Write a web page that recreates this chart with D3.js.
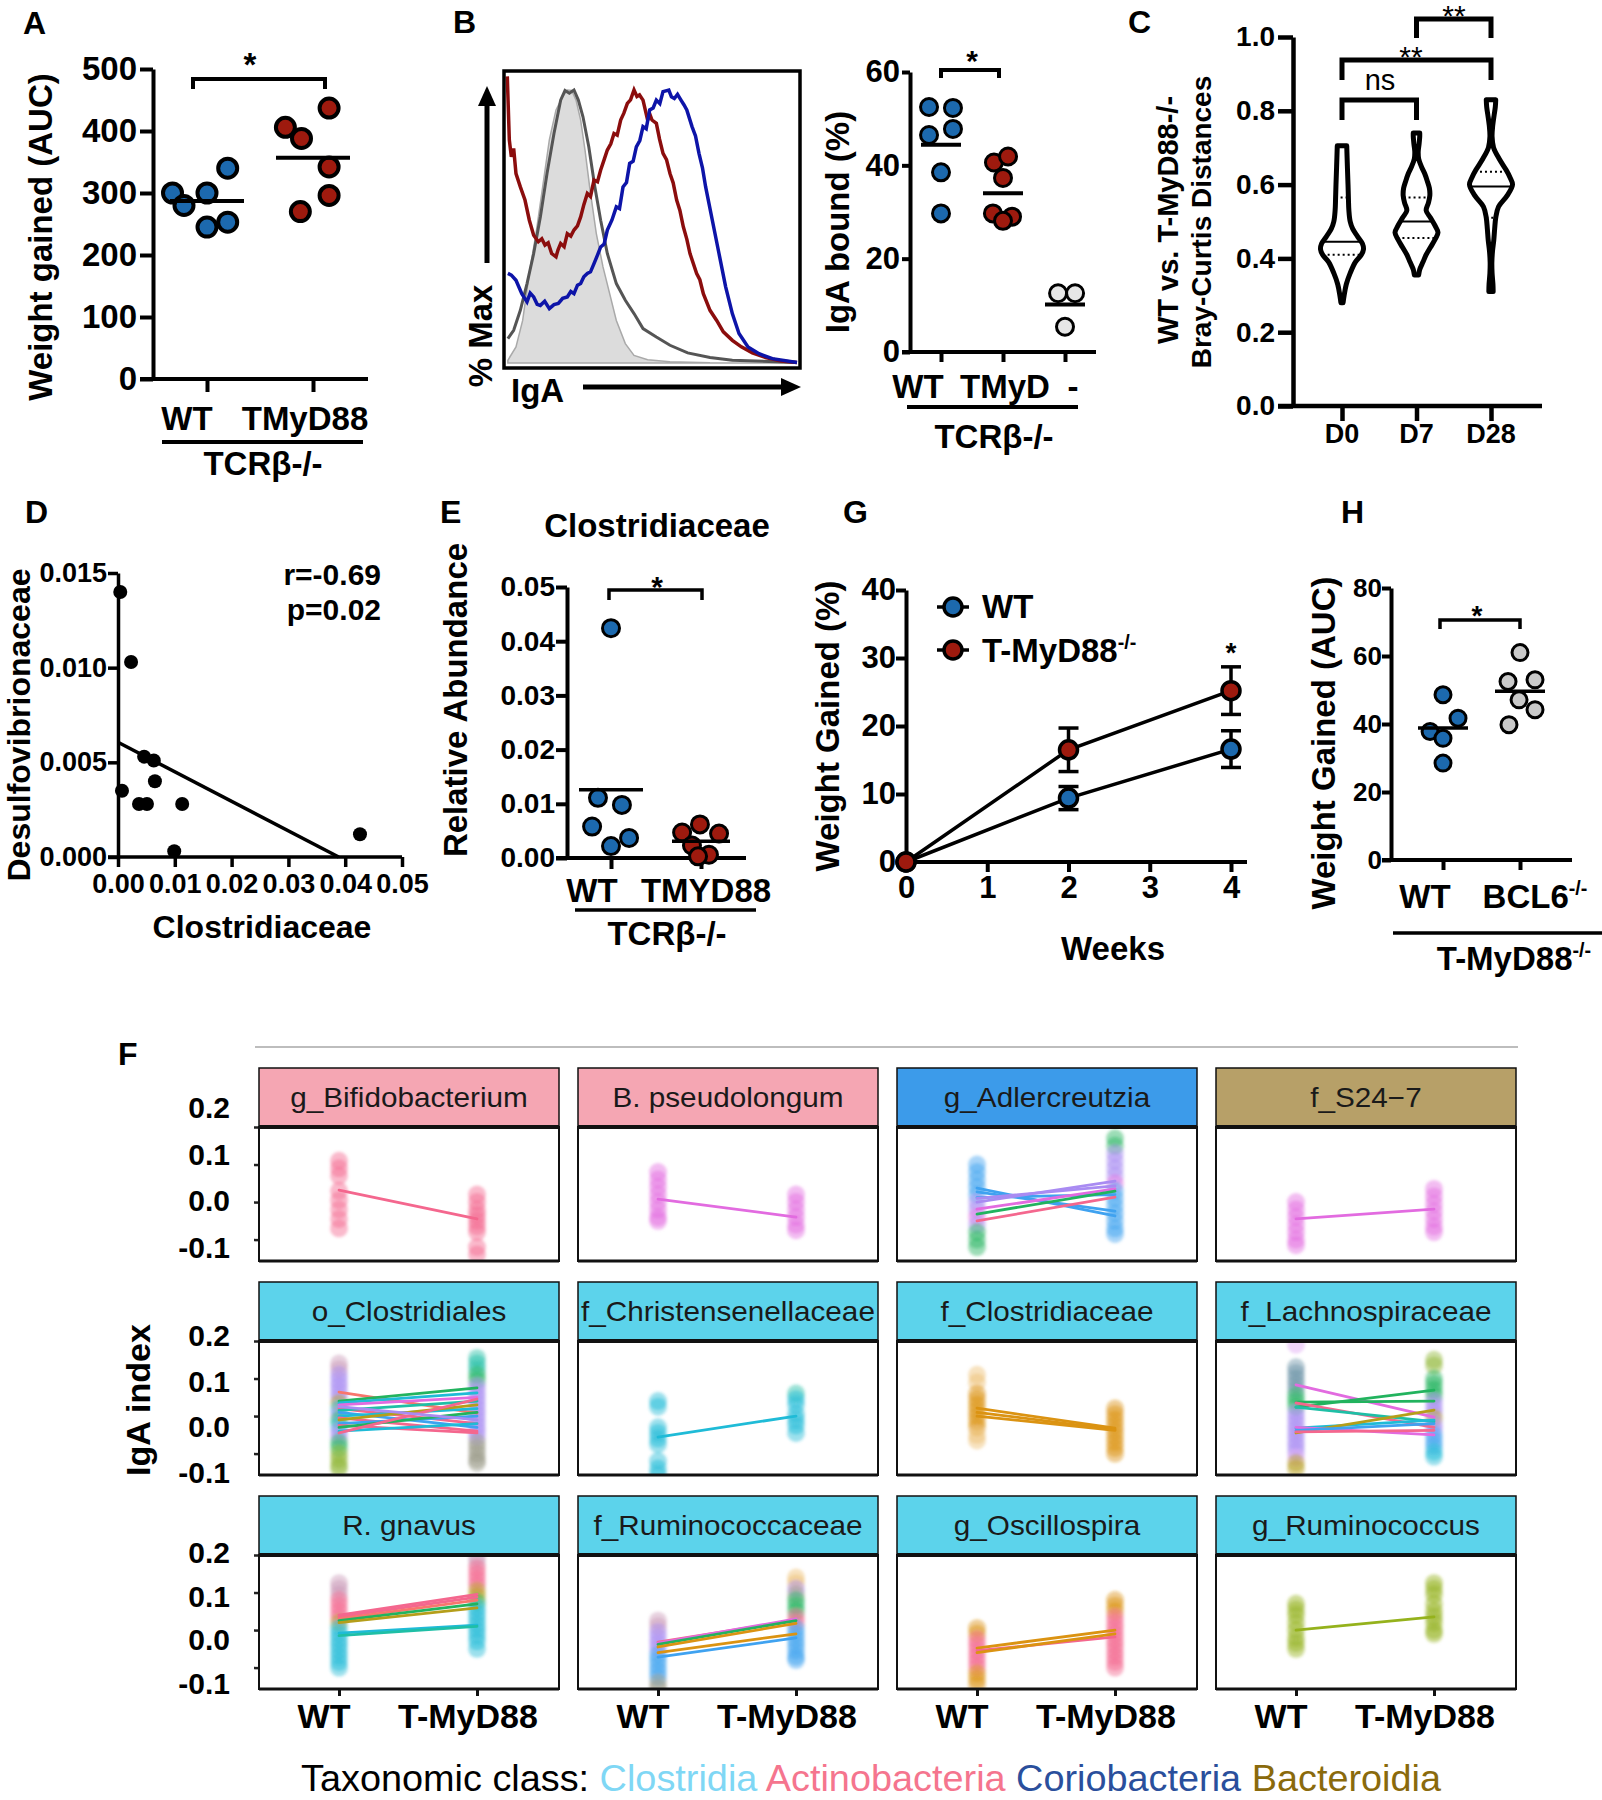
<!DOCTYPE html>
<html><head><meta charset="utf-8">
<script src="https://cdn.jsdelivr.net/npm/d3@7"></script>
<style>
body{margin:0;background:#fff;}
svg text{font-family:"Liberation Sans",Arial,Helvetica,sans-serif;}
</style></head><body>
<svg id="fig" width="1602" height="1800" xmlns="http://www.w3.org/2000/svg"></svg>
<script>
// ================= DATA =================
// A: weight gained (AUC)
const aGroups = ["WT", "TMyD88"];
const aWT = [300, 280, 300, 340, 245, 253];
const aTM = [406, 388, 437, 342, 296, 270];
const aMeans = [287, 357];
const aTicks = [0, 100, 200, 300, 400, 500];

// B: IgA histograms  [IgA intensity (0-100), % Max]
const histShaded = [[0.3,1],[3.1,5.9],[5.4,15.6],[7.7,32.8],[10,47.4],[12.3,64.5],[14.6,81.7],[16.9,92.7],[19.2,97.6],[20.8,100],[22.3,99.8],[23.8,96.3],[25.4,89],[26.9,78],[28.5,64.5],[30.8,47.4],[33.1,35.2],[35.4,25.4],[37.7,15.6],[40.8,7.1],[43.8,2.8],[48.5,1.2],[56.2,0.5],[70,0.1],[100,0]];
const histGray = [[0.3,8.9],[2.3,12],[4.6,19.3],[6.9,29.1],[9.2,40.1],[11.5,53.5],[13.8,69.4],[16.2,84.1],[18.5,96.3],[20,99.8],[21.5,98.8],[23.1,100],[24.6,96.3],[26.2,90.2],[28.2,79.2],[30.3,64.5],[32.3,52.3],[34.6,40.1],[37.7,29.1],[40.8,23],[43.8,18.1],[46.9,12.6],[51.5,9.5],[56.2,6.5],[62.3,3.7],[70,2],[77.7,1],[100,0.2]];
const histRed = [[0.1,105],[0.8,81.7],[1.5,75.5],[2.3,78.6],[3.1,69.4],[4.6,64.5],[6.2,59.7],[7.7,52.3],[9.2,46.8],[10.8,44.4],[12,45.5],[13.1,43.2],[14.2,44],[15.4,40.1],[16.9,38.9],[17.6,41.5],[18.5,43.8],[19.7,42.6],[20.8,47.4],[22,46.5],[23.1,48.7],[24.3,50.2],[25.4,53.5],[26.5,58],[27.7,62.1],[28.8,61],[30,67],[31.2,66.4],[32.3,70.7],[33.5,74.5],[34.6,78],[35.8,80.3],[36.9,84.1],[38,83.5],[39.2,89],[40.3,91.5],[41.5,95.1],[42.6,96.4],[43.8,100],[44.8,97.6],[45.7,98.2],[46.9,96.3],[48.5,89],[49.3,91],[50,89],[51.5,87.8],[52.6,82],[53.8,76.8],[55,74.5],[56.2,69.4],[57.3,66],[58.5,59.7],[59.6,56],[60.8,49.9],[62,45.4],[63.1,40.1],[65.4,32.8],[66.5,30.5],[67.7,25.4],[70,19.3],[72.3,15.6],[74.6,11.4],[77.7,8.3],[80.8,5.9],[84.6,3.7],[89.2,2],[94.6,0.7],[100,0.2]];
const histBlue = [[0.3,32.8],[1.5,32.2],[3.1,30.3],[5.1,25.4],[6.9,22.4],[8,25.6],[9.2,24.2],[10.4,21.5],[11.5,21.1],[13,22.6],[14.6,19.9],[16.2,21.4],[17.7,21.8],[19.2,23.7],[20.8,24.2],[22,26.2],[23.1,25.4],[24.3,28.5],[25.4,29.1],[26.5,31.6],[27.7,32.8],[28.8,33.4],[30,36.4],[31.2,39.5],[32.3,42.5],[33.5,43.6],[34.6,48.7],[36.2,52.4],[37.7,57.2],[38.8,56.6],[40,64.5],[41.2,66.1],[42.3,73.1],[43.5,73.9],[44.6,79.2],[45.8,81.5],[46.9,86.6],[48,85.8],[49.2,92.7],[50.4,93.4],[51.5,96.3],[52.7,95],[53.8,99.4],[55.8,100],[56.7,97.5],[57.7,96.9],[58.8,98.4],[60,96.3],[61,94.6],[62,92.7],[63.8,86.6],[65,83.2],[66.2,76.8],[67.4,71.5],[68.5,64.5],[70.8,52.3],[73.1,40.1],[75.4,27.9],[77.7,18.1],[80,10.8],[83.1,5.9],[86.9,3.4],[91.5,1.6],[100,0.2]];
// B: IgA bound (%)
const bGroups = ["WT", "TMyD", "-"];
const bWT = [52.5, 52.3, 46.5, 47.8, 38.5, 29.7];
const bTM = [40.6, 41.9, 37.3, 29.7, 29.0, 28.1];
const bNeg = [12.6, 12.6, 5.4];
const bMeans = [44.4, 34.0, 10.2];
const bTicks = [0, 20, 40, 60];

// C: Bray-Curtis violins  [distance, relative density]
const cGroups = ["D0", "D7", "D28"];
const vD0 = [[0.28,0.05],[0.30,0.1],[0.33,0.2],[0.36,0.38],[0.39,0.62],[0.41,0.9],[0.425,1.0],[0.44,0.95],[0.46,0.72],[0.48,0.5],[0.50,0.38],[0.53,0.32],[0.56,0.3],[0.60,0.28],[0.65,0.25],[0.705,0.22]];
const vD7 = [[0.355,0.1],[0.37,0.15],[0.39,0.3],[0.41,0.45],[0.43,0.65],[0.45,0.85],[0.47,1.0],[0.49,0.85],[0.51,0.65],[0.53,0.45],[0.55,0.55],[0.57,0.62],[0.59,0.6],[0.61,0.5],[0.63,0.38],[0.65,0.22],[0.67,0.1],[0.69,0.08],[0.71,0.12],[0.73,0.15],[0.74,0.15]];
const vD28 = [[0.31,0.1],[0.33,0.09],[0.36,0.05],[0.39,0.04],[0.42,0.07],[0.45,0.13],[0.48,0.17],[0.51,0.22],[0.54,0.35],[0.57,0.75],[0.60,1.0],[0.62,0.88],[0.64,0.7],[0.67,0.38],[0.70,0.12],[0.73,0.05],[0.76,0.08],[0.79,0.15],[0.81,0.2],[0.83,0.22]];
const cMedian = [0.445, 0.50, 0.595];
const cQ1 = [0.41, 0.455, 0.51];
const cQ3 = [0.565, 0.565, 0.635];
const cTicks = [0, 0.2, 0.4, 0.6, 0.8, 1.0];

// D: correlation
const dX = [0.0004, 0.0023, 0.0046, 0.0063, 0.0007, 0.0065, 0.0037, 0.0051, 0.0113, 0.0099, 0.0426];
const dY = [0.0140, 0.0103, 0.0053, 0.0051, 0.0035, 0.0040, 0.0028, 0.0028, 0.0028, 0.0003, 0.0012];
const dXTicks = [0, 0.01, 0.02, 0.03, 0.04, 0.05];
const dYTicks = [0, 0.005, 0.010, 0.015];

// E: Clostridiaceae relative abundance
const eGroups = ["WT", "TMYD88"];
const eWT = [0.0424, 0.0111, 0.0098, 0.0058, 0.0037, 0.0022];
const eTM = [0.0062, 0.0047, 0.0045, 0.0023, 0.0006, 0.0003];
const eMeans = [0.0126, 0.0031];
const eTicks = [0, 0.01, 0.02, 0.03, 0.04, 0.05];

// G: weight gained over weeks
const gWeeks = [0, 2, 4];
const gWTmean = [0, 9.4, 16.6];
const gWTsem = [0, 1.7, 2.7];
const gTMmean = [0, 16.5, 25.2];
const gTMsem = [0, 3.2, 3.5];
const gXTicks = [0, 1, 2, 3, 4];
const gYTicks = [0, 10, 20, 30, 40];

// H: weight gained AUC
const hGroups = ["WT", "BCL6"];
const hWT = [48.6, 41.7, 37.8, 35.8, 28.5];
const hBCL = [61.0, 52.5, 53.0, 47.1, 44.2, 39.8];
const hMeans = [38.8, 49.6];
const hTicks = [0, 20, 40, 60, 80];

// F: IgA index facets
const fNames = ["g_Bifidobacterium","B. pseudolongum","g_Adlercreutzia","f_S24\u22127","o_Clostridiales","f_Christensenellaceae","f_Clostridiaceae","f_Lachnospiraceae","R. gnavus","f_Ruminococcaceae","g_Oscillospira","g_Ruminococcus"];
const fClass = ["Actinobacteria","Actinobacteria","Coriobacteria","Bacteroidia","Clostridia","Clostridia","Clostridia","Clostridia","Clostridia","Clostridia","Clostridia","Clostridia"];
const fGroups = ["WT", "T-MyD88"];
const fYTicks = [-0.1, 0, 0.1, 0.2];
// samples: [IgA index, OTU key]
const fWT = [
  [[0.11,"pk"],[0.09,"pk"],[0.07,"pk"],[0.03,"pk"],[0.005,"pk"],[-0.02,"pk"],[-0.045,"pk"],[-0.07,"pk"]],
  [[0.08,"mg"],[0.06,"mg"],[0.04,"mg"],[0.02,"mg"],[0.0,"mg"],[-0.02,"mg"],[-0.04,"mg"],[-0.05,"mg"]],
  [[0.1,"bl"],[0.08,"bl"],[0.06,"bl"],[0.04,"bl"],[0.02,"bl"],[0.0,"pu"],[-0.02,"pu"],[-0.04,"mg"],[-0.06,"pu"],[-0.08,"gr"],[-0.1,"gr"],[-0.12,"gr"]],
  [[0.0,"mg"],[-0.02,"mg"],[-0.04,"mg"],[-0.06,"mg"],[-0.08,"mg"],[-0.1,"mg"],[-0.115,"mg"]],
  [[0.14,"mv"],[0.125,"mv"],[0.11,"pu"],[0.095,"pu"],[0.08,"pu"],[0.065,"pu"],[0.05,"pu"],[0.035,"ol"],[0.02,"cy"],[0.005,"pu"],[-0.01,"gr"],[-0.025,"cy"],[-0.04,"pu"],[-0.055,"pu"],[-0.07,"gr"],[-0.085,"gr"],[-0.1,"lg"],[-0.115,"lg"],[-0.13,"lg"],[-0.14,"lg"]],
  [[0.04,"cy"],[0.025,"cy"],[-0.03,"cy"],[-0.045,"cy"],[-0.06,"cy"],[-0.075,"cy"],[-0.12,"cy"],[-0.14,"cy"],[-0.155,"cy"]],
  [[0.11,"lt"],[0.09,"lt"],[0.06,"or"],[0.045,"or"],[0.03,"or"],[0.015,"or"],[0.0,"or"],[-0.015,"or"],[-0.03,"or"],[-0.05,"lt"],[-0.065,"lt"]],
  [[0.19,"lp"],[0.13,"sg"],[0.115,"sg"],[0.1,"sg"],[0.085,"sg"],[0.07,"sg"],[0.055,"gr"],[0.04,"gr"],[0.025,"gr"],[0.01,"pu"],[-0.005,"pu"],[-0.02,"pu"],[-0.035,"pu"],[-0.05,"pu"],[-0.065,"pu"],[-0.08,"pu"],[-0.095,"pu"],[-0.11,"lp"],[-0.125,"ol"],[-0.14,"ol"]],
  [[0.125,"mv"],[0.11,"mv"],[0.095,"mv"],[0.08,"pk"],[0.065,"pk"],[0.05,"pk"],[0.035,"pk"],[0.02,"ol"],[0.005,"cy"],[-0.01,"cy"],[-0.025,"cy"],[-0.04,"cy"],[-0.055,"cy"],[-0.07,"cy"],[-0.085,"cy"],[-0.1,"cy"]],
  [[0.025,"mv"],[0.01,"mv"],[-0.005,"pu"],[-0.02,"pu"],[-0.035,"pu"],[-0.05,"pu"],[-0.065,"bl"],[-0.08,"bl"],[-0.095,"bl"],[-0.11,"bl"],[-0.125,"bl"],[-0.14,"gy"],[-0.155,"gy"]],
  [[0.005,"or"],[-0.01,"or"],[-0.025,"pk"],[-0.04,"pk"],[-0.055,"pk"],[-0.07,"pk"],[-0.085,"pk"],[-0.1,"pk"],[-0.115,"or"],[-0.13,"or"],[-0.145,"or"]],
  [[0.07,"yg"],[0.055,"yg"],[0.04,"yg"],[0.02,"yg"],[0.0,"yg"],[-0.02,"yg"],[-0.035,"yg"],[-0.05,"yg"]]
];
const fTM = [
  [[0.02,"pk"],[0.0,"pk"],[-0.02,"pk"],[-0.035,"pk"],[-0.05,"pk"],[-0.065,"pk"],[-0.08,"pk"],[-0.12,"pk"],[-0.14,"pk"]],
  [[0.02,"mg"],[0.0,"mg"],[-0.02,"mg"],[-0.04,"mg"],[-0.06,"mg"],[-0.075,"mg"]],
  [[0.17,"gr"],[0.15,"gr"],[0.13,"pu"],[0.11,"pu"],[0.09,"pu"],[0.07,"pu"],[0.05,"mg"],[0.03,"bl"],[0.01,"bl"],[-0.01,"bl"],[-0.03,"bl"],[-0.05,"bl"],[-0.07,"bl"],[-0.085,"bl"]],
  [[0.035,"mg"],[0.015,"mg"],[-0.005,"mg"],[-0.025,"mg"],[-0.045,"mg"],[-0.065,"mg"],[-0.08,"mg"]],
  [[0.155,"tl"],[0.14,"tl"],[0.125,"tl"],[0.11,"gr"],[0.095,"gr"],[0.08,"pu"],[0.065,"pu"],[0.05,"pu"],[0.035,"pu"],[0.02,"pu"],[0.005,"pu"],[-0.01,"pu"],[-0.025,"pu"],[-0.04,"pu"],[-0.055,"pu"],[-0.07,"gy"],[-0.085,"gy"],[-0.1,"gy"],[-0.115,"gy"],[-0.125,"gy"]],
  [[0.06,"tl"],[0.045,"cy"],[0.03,"cy"],[0.005,"cy"],[-0.01,"cy"],[-0.025,"cy"],[-0.045,"cy"]],
  [[0.02,"or"],[0.005,"or"],[-0.01,"or"],[-0.025,"or"],[-0.04,"or"],[-0.055,"or"],[-0.07,"or"],[-0.085,"or"],[-0.1,"or"]],
  [[0.15,"lg"],[0.135,"lg"],[0.1,"gr"],[0.085,"gr"],[0.07,"gr"],[0.055,"gr"],[0.04,"pu"],[0.025,"pu"],[0.01,"pu"],[-0.005,"ol"],[-0.02,"pu"],[-0.035,"pu"],[-0.05,"bl"],[-0.065,"bl"],[-0.08,"bl"],[-0.095,"cy"],[-0.108,"cy"]],
  [[0.195,"mv"],[0.18,"mv"],[0.165,"pk"],[0.15,"pk"],[0.135,"pk"],[0.12,"pk"],[0.105,"ol"],[0.09,"ol"],[0.075,"gr"],[0.06,"cy"],[0.045,"cy"],[0.03,"cy"],[0.015,"cy"],[0.0,"cy"],[-0.015,"cy"],[-0.03,"cy"],[-0.05,"cy"]],
  [[0.14,"lt"],[0.125,"lt"],[0.11,"pu"],[0.095,"gy"],[0.08,"gr"],[0.065,"gr"],[0.05,"gr"],[0.035,"pk"],[0.02,"pk"],[0.005,"bl"],[-0.01,"bl"],[-0.025,"bl"],[-0.04,"bl"],[-0.055,"bl"],[-0.07,"bl"],[-0.08,"bl"]],
  [[0.08,"or"],[0.065,"or"],[0.05,"or"],[0.035,"pk"],[0.02,"pk"],[0.005,"pk"],[-0.01,"pk"],[-0.025,"pk"],[-0.04,"pk"],[-0.055,"pk"],[-0.07,"pk"],[-0.085,"pk"],[-0.1,"pk"]],
  [[0.125,"yg"],[0.11,"yg"],[0.095,"yg"],[0.07,"yg"],[0.05,"yg"],[0.035,"yg"],[0.02,"yg"],[0.0,"yg"],[-0.01,"yg"]]
];
// paired OTU lines: [WT value, T-MyD88 value, OTU key]
const fLines = [
  [[0.032,-0.045,"pk"]],
  [[0.008,-0.04,"mg"]],
  [[0.037,-0.037,"bl"],[0.027,-0.024,"bl"],[0.012,0.02,"bl"],[0.0,0.056,"pu"],[0.01,0.043,"pu"],[-0.019,0.035,"mg"],[-0.032,0.029,"gr"],[-0.05,0.013,"pk"]],
  [[-0.045,-0.019,"mg"]],
  [[0.064,0.008,"rd"],[0.04,0.075,"gr"],[0.035,0.062,"cy"],[0.03,0.05,"mg"],[0.02,-0.02,"pk"],[0.015,0.04,"tl"],[0.01,-0.03,"bl"],[0.0,0.02,"cy"],[-0.005,-0.04,"pk"],[-0.01,0.03,"ol"],[-0.02,0.0,"bl"],[-0.025,-0.045,"pk"],[-0.03,0.01,"gr"],[-0.04,-0.02,"cy"],[-0.045,0.045,"pk"],[0.025,-0.01,"pu"]],
  [[-0.056,0.0,"cy"]],
  [[0.021,-0.032,"or"],[0.01,-0.036,"or"],[0.0,-0.038,"or"]],
  [[0.083,-0.003,"mg"],[0.024,0.069,"gr"],[0.037,0.04,"gr"],[0.035,-0.03,"pk"],[0.024,-0.015,"tl"],[-0.032,-0.011,"cy"],[-0.045,0.016,"ol"],[-0.03,-0.05,"mg"],[-0.038,-0.02,"bl"],[-0.042,-0.038,"pk"]],
  [[0.035,0.088,"pk"],[0.03,0.08,"rd"],[0.025,0.07,"gr"],[0.02,0.059,"ol"],[-0.008,0.013,"cy"],[-0.015,0.01,"tl"],[0.04,0.095,"pk"]],
  [[-0.032,0.027,"pk"],[-0.035,0.03,"mg"],[-0.038,0.025,"gr"],[-0.045,0.018,"or"],[-0.072,-0.021,"bl"],[-0.06,-0.01,"or"]],
  [[-0.048,0.0,"or"],[-0.055,-0.018,"pk"],[-0.06,-0.01,"or"]],
  [[0.0,0.035,"yg"]]
];
const legendClasses = ["Clostridia", "Actinobacteria", "Coriobacteria", "Bacteroidia"];

// ================= STYLE / LAYOUT =================
const BLUE = "#1C69AE", RED = "#9E1A0E", LGRAY = "#E6E6E6", MGRAY = "#C9C9C9";
const PAL = {pk:"#F4678E", rd:"#F8766D", mg:"#E26BE0", pu:"#A98BF2", mv:"#C99AB9", bl:"#3FA2F0", gr:"#22B35E", tl:"#1FBFA6", cy:"#1FBBD7", ol:"#B59E1A", yg:"#95B21C", lg:"#8DB534", gy:"#999988", sg:"#6A93A6", or:"#DB9312", lt:"#EDBE72", lp:"#DDA3F2"};
const stripFill = {Actinobacteria:"#F5A6B3", Coriobacteria:"#3C9BEA", Bacteroidia:"#B7A068", Clostridia:"#5CD3EB"};
const legendFill = {Clostridia:"#7FD7F5", Actinobacteria:"#F5758E", Coriobacteria:"#2A4F9C", Bacteroidia:"#8A6A0C"};
// horizontal jitter of dots, in dot diameters
const jitA = [[-1.5,-1,0,0.9,0,0.9],[-1.2,-0.5,0.7,0.7,0.7,-0.55]];
const jitB = [[-0.57,0.57,-0.57,0.57,0,0],[-0.43,0.24,0,-0.48,0.43,0],[-0.33,0.48,0]];
const jitE = [[0,-0.62,0.52,-0.9,0.86,0],[-0.05,-0.9,0.86,-0.43,0.38,-0.14]];
const jitH = [[0,0.79,-0.68,0,0],[0,-0.63,0.79,-0.05,0.79,-0.58]];
const hyphen = s => s.replace(/\u2212/g, "-");

const svg = d3.select("#fig");
svg.append("rect").attr("width",1602).attr("height",1800).attr("fill","#fff");
const defs = svg.append("defs");
defs.append("filter").attr("id","soft").attr("x","-50%").attr("y","-50%").attr("width","200%").attr("height","200%")
  .append("feGaussianBlur").attr("stdDeviation",1.8);

function txt(x, y, s, fs, o = {}) {
  const t = svg.append("text").attr("x", x).attr("y", y).text(s)
    .attr("font-size", fs).attr("font-weight", o.weight || "bold")
    .attr("text-anchor", o.anchor || "start").attr("fill", o.fill || "#000");
  if (o.rotate) t.attr("transform", `rotate(-90,${x},${y})`);
  return t;
}
function supTxt(x, y, main, sup, fs, anchor) {
  const t = svg.append("text").attr("x", x).attr("y", y).attr("font-size", fs)
    .attr("font-weight", "bold").attr("text-anchor", anchor);
  t.append("tspan").text(main);
  t.append("tspan").text(sup).attr("font-size", fs * 0.6).attr("dy", -fs * 0.4);
  return t;
}
function line(x1, y1, x2, y2, w, col) {
  return svg.append("line").attr("x1", x1).attr("y1", y1).attr("x2", x2).attr("y2", y2)
    .attr("stroke", col || "#000").attr("stroke-width", w);
}
function styleAxis(g, sw, fs) {
  g.attr("font-family", null).attr("font-size", null);
  g.select(".domain").attr("stroke-width", sw).attr("stroke", "#000");
  g.selectAll(".tick line").attr("stroke-width", sw).attr("stroke", "#000");
  g.selectAll(".tick text").attr("font-size", fs).attr("font-weight", "bold").attr("fill", "#000");
}
function yAxis(x0, scale, ticks, tl, pad, sw, fs, fmt) {
  const g = svg.append("g").attr("transform", `translate(${x0},0)`)
    .call(d3.axisLeft(scale).tickValues(ticks).tickSize(tl).tickSizeOuter(0).tickPadding(pad).tickFormat(fmt));
  styleAxis(g, sw, fs);
  return g;
}
function catXAxis(y0, xs, xStart, xEnd, tl, sw) {
  line(xStart, y0, xEnd, y0, sw);
  const g = svg.append("g").attr("transform", `translate(0,${y0})`)
    .call(d3.axisBottom(xs).tickSize(tl).tickSizeOuter(0).tickFormat(() => ""));
  g.select(".domain").remove();
  styleAxis(g, sw, 10);
}
function dots(xs, ys, grp, vals, jit, diam, r, fill, sw) {
  svg.append("g").selectAll("circle").data(vals).enter().append("circle")
    .attr("cx", (d, i) => xs(grp) + jit[i] * diam).attr("cy", d => ys(d)).attr("r", r)
    .attr("fill", fill).attr("stroke", "#000").attr("stroke-width", sw);
}
function meanLine(xs, ys, grp, v, half, sw) {
  line(xs(grp) - half, ys(v), xs(grp) + half, ys(v), sw);
}
function bracket(x1, x2, yTop, yEnd, sw) {
  svg.append("path").attr("d", `M${x1},${yEnd}V${yTop}H${x2}V${yEnd}`)
    .attr("fill", "none").attr("stroke", "#000").attr("stroke-width", sw);
}

// panel letters
[["A",23,34],["B",453,33],["C",1128,33],["D",25,523],["E",440,523],["G",843,523],["H",1341,523],["F",118,1065]]
  .forEach(([s,x,y]) => txt(x, y, s, 32));

// ================= PANEL A =================
{
  const y = d3.scaleLinear([0, 500], [379, 69]);
  const x = d3.scalePoint(aGroups, [207, 313]);
  yAxis(153, y, aTicks, 13, 3, 4, 33, d3.format("d"));
  catXAxis(379, x, 140, 368, 13, 4);
  dots(x, y, "WT", aWT, jitA[0], 23, 9.5, BLUE, 4);
  dots(x, y, "TMyD88", aTM, jitA[1], 23, 9.5, RED, 4);
  meanLine(x, y, "WT", aMeans[0], 37, 4);
  meanLine(x, y, "TMyD88", aMeans[1], 37, 4);
  bracket(193, 325, 79, 89, 4);
  txt(250, 76, "*", 33, {anchor: "middle"});
  txt(187, 430, "WT", 33, {anchor: "middle"});
  txt(305, 430, "TMyD88", 33, {anchor: "middle"});
  line(162, 442, 363, 442, 4);
  txt(263, 475, "TCR\u03b2-/-", 33, {anchor: "middle"});
  txt(52, 237, "Weight gained (AUC)", 33, {anchor: "middle", rotate: true});
}

// ================= PANEL B (histogram) =================
{
  const x = d3.scaleLinear([0, 100], [507, 797]);
  const y = d3.scaleLinear([0, 100], [363, 90]);
  defs.append("clipPath").attr("id", "histclip").append("rect").attr("x", 504).attr("y", 71).attr("width", 296).attr("height", 295);
  const g = svg.append("g").attr("clip-path", "url(#histclip)");
  g.append("path").datum(histShaded)
    .attr("d", d3.area().x(d => x(d[0])).y0(y(0)).y1(d => y(d[1])))
    .attr("fill", "#DCDCDC").attr("stroke", "#A9A9A9").attr("stroke-width", 1.5);
  const ln = d3.line().x(d => x(d[0])).y(d => y(d[1]));
  g.append("path").datum(histGray).attr("d", ln).attr("fill", "none").attr("stroke", "#555").attr("stroke-width", 3);
  g.append("path").datum(histRed).attr("d", ln).attr("fill", "none").attr("stroke", "#8B0D0D").attr("stroke-width", 3.5);
  g.append("path").datum(histBlue).attr("d", ln).attr("fill", "none").attr("stroke", "#0D14A8").attr("stroke-width", 3.5);
  svg.append("rect").attr("x", 504).attr("y", 71).attr("width", 296).attr("height", 297)
    .attr("fill", "none").attr("stroke", "#000").attr("stroke-width", 3.5);
  // arrows
  line(487, 263, 487, 100, 5);
  svg.append("path").attr("d", "M487,86L478,106L496,106Z").attr("fill", "#000");
  line(583, 387, 786, 387, 5);
  svg.append("path").attr("d", "M801,387L781,378L781,396Z").attr("fill", "#000");
  txt(492, 336, "% Max", 33, {anchor: "middle", rotate: true});
  txt(511, 402, "IgA", 33);
}
// ================= PANEL B (IgA bound) =================
{
  const y = d3.scaleLinear([0, 60], [352, 72]);
  const x = d3.scalePoint(bGroups, [941, 1065]);
  yAxis(910, y, bTicks, 8, 2, 4, 31, d3.format("d"));
  catXAxis(352, x, 902, 1096, 10, 4);
  dots(x, y, "WT", bWT, jitB[0], 21, 8.5, BLUE, 3);
  dots(x, y, "TMyD", bTM, jitB[1], 21, 8.5, RED, 3);
  dots(x, y, "-", bNeg, jitB[2], 21, 8.5, LGRAY, 3);
  bGroups.forEach((gname, i) => meanLine(x, y, gname, bMeans[i], 20, 4));
  bracket(941, 999, 70, 78, 4);
  txt(972, 71, "*", 30, {anchor: "middle"});
  txt(918, 398, "WT", 33, {anchor: "middle"});
  txt(1005, 398, "TMyD", 33, {anchor: "middle"});
  txt(1073, 398, "-", 33, {anchor: "middle"});
  line(907, 407, 1078, 407, 4);
  txt(994, 448, "TCR\u03b2-/-", 33, {anchor: "middle"});
  txt(849, 222, "IgA bound (%)", 33, {anchor: "middle", rotate: true});
}

// ================= PANEL C =================
{
  const y = d3.scaleLinear([0, 1], [406, 37]);
  const x = d3.scalePoint(cGroups, [1342, 1491]);
  yAxis(1293, y, cTicks, 15, 3, 4.5, 28, d3.format(".1f"));
  catXAxis(406, x, 1278, 1542, 15, 4.5);
  cGroups.forEach((gname, i) => txt(x(gname), 443, gname, 27, {anchor: "middle"}));
  const dens = [vD0, vD7, vD28];
  const W = 21.5;
  function densAt(arr, q) {
    for (let k = 0; k < arr.length - 1; k++) {
      if (q >= arr[k][0] && q <= arr[k + 1][0]) {
        const t = (q - arr[k][0]) / (arr[k + 1][0] - arr[k][0]);
        return arr[k][1] + t * (arr[k + 1][1] - arr[k][1]);
      }
    }
    return 0;
  }
  cGroups.forEach((gname, i) => {
    const cx = x(gname), dd = dens[i];
    const right = d3.line().x(d => cx + d[1] * W).y(d => y(d[0])).curve(d3.curveCatmullRom)(dd);
    const left = d3.line().x(d => cx - d[1] * W).y(d => y(d[0])).curve(d3.curveCatmullRom)(dd.slice().reverse());
    svg.append("path").attr("d", right + "L" + left.slice(1) + "Z")
      .attr("fill", "#fff").attr("stroke", "#000").attr("stroke-width", 5).attr("stroke-linejoin", "round");
    const wm = densAt(dd, cMedian[i]) * W;
    line(cx - wm, y(cMedian[i]), cx + wm, y(cMedian[i]), 2);
    [cQ1[i], cQ3[i]].forEach(q => {
      const w = densAt(dd, q) * W;
      line(cx - w, y(q), cx + w, y(q), 2).attr("stroke-dasharray", "2,3");
    });
  });
  bracket(x("D0"), x("D7"), 100, 120, 5);
  txt(1380, 90, "ns", 29, {anchor: "middle", weight: "normal"});
  bracket(x("D0"), x("D28"), 60, 80, 5);
  txt(1411, 67, "**", 30, {anchor: "middle", weight: "normal"});
  bracket(x("D7"), x("D28"), 19, 38, 5);
  txt(1454, 26, "**", 30, {anchor: "middle", weight: "normal"});
  txt(1178, 220, "WT vs. T-MyD88-/-", 29, {anchor: "middle", rotate: true});
  txt(1211, 222, "Bray-Curtis Distances", 28, {anchor: "middle", rotate: true});
}

// ================= PANEL D =================
{
  const x = d3.scaleLinear([0, 0.05], [118, 402]);
  const y = d3.scaleLinear([0, 0.015], [857, 573]);
  yAxis(118, y, dYTicks, 10, 1, 3.5, 27, d3.format(".3f"));
  line(108, 857, 402, 857, 3.5);
  const gx = svg.append("g").attr("transform", "translate(0,857)")
    .call(d3.axisBottom(x).tickValues(dXTicks).tickSize(10).tickSizeOuter(0).tickPadding(7).tickFormat(d3.format(".2f")));
  gx.select(".domain").remove();
  styleAxis(gx, 3.5, 27);
  // least-squares fit
  const mx = d3.mean(dX), my = d3.mean(dY);
  const sxy = d3.sum(dX.map((v, i) => (v - mx) * (dY[i] - my)));
  const sxx = d3.sum(dX.map(v => (v - mx) * (v - mx)));
  const slope = sxy / sxx, icpt = my - slope * mx;
  const xEnd = -icpt / slope;
  line(x(0), y(icpt), x(xEnd), y(0), 3.5);
  svg.append("g").selectAll("circle").data(dX).enter().append("circle")
    .attr("cx", d => x(d)).attr("cy", (d, i) => y(dY[i])).attr("r", 7).attr("fill", "#000");
  txt(381, 585, "r=-0.69", 30, {anchor: "end"});
  txt(381, 620, "p=0.02", 30, {anchor: "end"});
  txt(30, 725, "Desulfovibrionaceae", 32, {anchor: "middle", rotate: true});
  txt(262, 938, "Clostridiaceae", 32, {anchor: "middle"});
}

// ================= PANEL E =================
{
  const y = d3.scaleLinear([0, 0.05], [858, 587]);
  const x = d3.scalePoint(eGroups, [611, 701]);
  yAxis(567, y, eTicks, 11, 1, 4, 28, d3.format(".2f"));
  catXAxis(858, x, 556, 746, 11, 4);
  dots(x, y, "WT", eWT, jitE[0], 21, 8.5, BLUE, 3);
  dots(x, y, "TMYD88", eTM, jitE[1], 21, 8.5, RED, 3);
  meanLine(x, y, "WT", eMeans[0], 32, 3.5);
  meanLine(x, y, "TMYD88", eMeans[1], 29, 3.5);
  bracket(609, 702, 590, 600, 3.5);
  txt(657, 597, "*", 30, {anchor: "middle"});
  txt(657, 537, "Clostridiaceae", 33, {anchor: "middle"});
  txt(592, 902, "WT", 33, {anchor: "middle"});
  txt(706, 902, "TMYD88", 33, {anchor: "middle"});
  line(575, 910, 756, 910, 3.5);
  txt(667, 945, "TCR\u03b2-/-", 33, {anchor: "middle"});
  txt(467, 700, "Relative Abundance", 33, {anchor: "middle", rotate: true});
}

// ================= PANEL G =================
{
  const x = d3.scaleLinear([0, 4], [906, 1231]);
  const y = d3.scaleLinear([0, 40], [862, 590]);
  yAxis(906, y, gYTicks, 10, 0, 4, 31, d3.format("d"));
  line(896, 862, 1247, 862, 4);
  const gx = svg.append("g").attr("transform", "translate(0,862)")
    .call(d3.axisBottom(x).tickValues(gXTicks).tickSize(10).tickSizeOuter(0).tickPadding(4).tickFormat(d3.format("d")));
  gx.select(".domain").remove();
  styleAxis(gx, 4, 31);
  const series = [[gWTmean, gWTsem, BLUE], [gTMmean, gTMsem, RED]];
  series.forEach(([m, s]) => {
    svg.append("path").datum(gWeeks.map((w, i) => [w, m[i]]))
      .attr("d", d3.line().x(d => x(d[0])).y(d => y(d[1])))
      .attr("fill", "none").attr("stroke", "#000").attr("stroke-width", 3.5);
  });
  series.forEach(([m, s]) => {
    gWeeks.forEach((w, i) => {
      if (s[i] > 0) {
        line(x(w), y(m[i] - s[i]), x(w), y(m[i] + s[i]), 3.5);
        line(x(w) - 10, y(m[i] + s[i]), x(w) + 10, y(m[i] + s[i]), 3.5);
        line(x(w) - 10, y(m[i] - s[i]), x(w) + 10, y(m[i] - s[i]), 3.5);
      }
    });
  });
  series.forEach(([m, s, col]) => {
    svg.append("g").selectAll("circle").data(gWeeks).enter().append("circle")
      .attr("cx", d => x(d)).attr("cy", (d, i) => y(m[i])).attr("r", 9)
      .attr("fill", col).attr("stroke", "#000").attr("stroke-width", 3.5);
  });
  txt(x(4), 662, "*", 28, {anchor: "middle"});
  // legend
  [[607, BLUE], [650, RED]].forEach(([ly, col]) => {
    line(937, ly, 969, ly, 3.5);
    svg.append("circle").attr("cx", 953).attr("cy", ly).attr("r", 9).attr("fill", col).attr("stroke", "#000").attr("stroke-width", 3.5);
  });
  txt(982, 618, "WT", 33);
  supTxt(982, 662, "T-MyD88", "-/-", 33, "start");
  txt(839, 726, "Weight Gained (%)", 33, {anchor: "middle", rotate: true});
  txt(1113, 960, "Weeks", 33, {anchor: "middle"});
}

// ================= PANEL H =================
{
  const y = d3.scaleLinear([0, 80], [860, 588]);
  const x = d3.scalePoint(hGroups, [1443, 1520]);
  yAxis(1391, y, hTicks, 9, 0, 4, 26, d3.format("d"));
  catXAxis(860, x, 1382, 1572, 10, 4);
  dots(x, y, "WT", hWT, jitH[0], 19, 8, BLUE, 3);
  dots(x, y, "BCL6", hBCL, jitH[1], 19, 8, MGRAY, 3);
  meanLine(x, y, "WT", hMeans[0], 25, 3.5);
  meanLine(x, y, "BCL6", hMeans[1], 25, 3.5);
  bracket(1440, 1520, 620, 629, 3.5);
  txt(1477, 625, "*", 28, {anchor: "middle"});
  txt(1425, 908, "WT", 33, {anchor: "middle"});
  supTxt(1535, 908, "BCL6", "-/-", 33, "middle");
  line(1393, 933, 1602, 933, 3.5);
  supTxt(1514, 970, "T-MyD88", "-/-", 33, "middle");
  txt(1335, 743, "Weight Gained (AUC)", 33, {anchor: "middle", rotate: true});
}

// ================= PANEL F =================
{
  line(255, 1047, 1518, 1047, 2, "#BDBDBD");
  const colLeft = 259, colStep = 319, panelW = 300;
  const rowTop = [1068, 1282, 1496], stripH = 59, panelH = 134;
  const labelOff = [[120, -20], [131, -6], [128, -3]];
  fNames.forEach((name, i) => {
    const row = Math.floor(i / 4), col = i % 4;
    const left = colLeft + col * colStep;
    const sTop = rowTop[row], pTop = sTop + stripH, pBot = pTop + panelH;
    const y = d3.scaleLinear([-0.157, 0.2], [pBot, pTop]);
    const x = d3.scalePoint(fGroups, [left + 80, left + 218]);
    const cid = "fclip" + i;
    defs.append("clipPath").attr("id", cid).append("rect").attr("x", left).attr("y", pTop).attr("width", panelW).attr("height", panelH);
    svg.append("rect").attr("x", left).attr("y", pTop).attr("width", panelW).attr("height", panelH).attr("fill", "#fff");
    const g = svg.append("g").attr("clip-path", `url(#${cid})`);
    const gd = g.append("g").attr("filter", "url(#soft)");
    gd.selectAll("circle.w").data(fWT[i]).enter().append("circle")
      .attr("cx", x("WT")).attr("cy", d => y(d[0])).attr("r", 9)
      .attr("fill", d => PAL[d[1]]).attr("fill-opacity", 0.45);
    gd.selectAll("circle.t").data(fTM[i]).enter().append("circle")
      .attr("cx", x("T-MyD88")).attr("cy", d => y(d[0])).attr("r", 9)
      .attr("fill", d => PAL[d[1]]).attr("fill-opacity", 0.45);
    g.selectAll("line").data(fLines[i]).enter().append("line")
      .attr("x1", x("WT")).attr("y1", d => y(d[0])).attr("x2", x("T-MyD88")).attr("y2", d => y(d[1]))
      .attr("stroke", d => PAL[d[2]]).attr("stroke-width", 2.8).attr("stroke-linecap", "round");
    svg.append("rect").attr("x", left).attr("y", pTop).attr("width", panelW).attr("height", panelH)
      .attr("fill", "none").attr("stroke", "#111").attr("stroke-width", 2);
    line(left, pBot, left + panelW, pBot, 3, "#111");
    // strip
    svg.append("rect").attr("x", left).attr("y", sTop).attr("width", panelW).attr("height", stripH)
      .attr("fill", stripFill[fClass[i]]).attr("stroke", "#111").attr("stroke-width", 1.5);
    line(left, pTop, left + panelW, pTop, 4, "#111");
    svg.append("text").attr("transform", `translate(${left + panelW / 2},${sTop + 39}) scale(1.1,1)`)
      .attr("text-anchor", "middle").attr("font-size", 27).attr("fill", "#1a1a1a").text(name);
    // y axis (first column)
    if (col === 0) {
      const gy = svg.append("g").attr("transform", `translate(${left - 1},0)`)
        .call(d3.axisLeft(y).tickValues(fYTicks).tickSize(4).tickSizeOuter(0).tickFormat(() => ""));
      gy.select(".domain").remove();
      gy.selectAll(".tick line").attr("stroke", "#222").attr("stroke-width", 2.5);
      const ly = d3.scaleLinear([-0.1, 0.2], [pTop + labelOff[row][0], pTop + labelOff[row][1]]);
      fYTicks.forEach(v => txt(230, ly(v) + 11, hyphen(d3.format(".1f")(v)), 30, {anchor: "end"}));
    }
    // x axis (last row)
    if (row === 2) {
      const gx = svg.append("g").attr("transform", `translate(0,${pBot})`)
        .call(d3.axisBottom(x).tickSize(7).tickSizeOuter(0).tickFormat(() => ""));
      gx.select(".domain").remove();
      gx.selectAll(".tick line").attr("stroke", "#111").attr("stroke-width", 3);
      txt(x("WT") - 15, 1728, "WT", 34, {anchor: "middle"});
      txt(x("T-MyD88") - 9, 1728, "T-MyD88", 34, {anchor: "middle"});
    }
  });
  txt(150, 1400, "IgA index", 34, {anchor: "middle", rotate: true});
  const lg = svg.append("text").attr("x", 301).attr("y", 1791).attr("font-size", 36)
    .attr("textLength", 1140).attr("lengthAdjust", "spacingAndGlyphs");
  lg.append("tspan").text("Taxonomic class: ").attr("fill", "#000");
  legendClasses.forEach((c, k) => lg.append("tspan").text(c + (k < legendClasses.length - 1 ? " " : "")).attr("fill", legendFill[c]));
}
</script>
</body></html>
